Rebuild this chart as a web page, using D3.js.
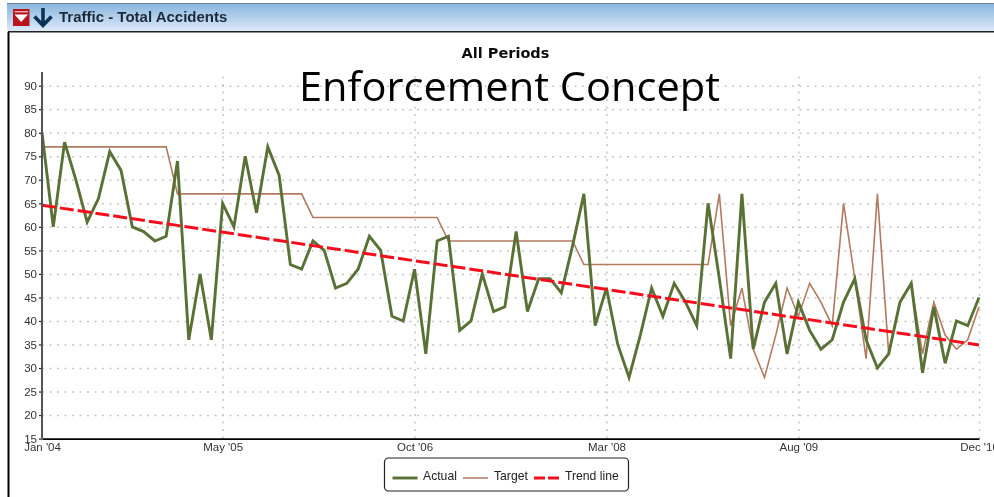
<!DOCTYPE html>
<html>
<head>
<meta charset="utf-8">
<script src="https://cdnjs.cloudflare.com/ajax/libs/d3/7.8.5/d3.min.js"></script>
<style>
html,body{margin:0;padding:0;background:#fff;overflow:hidden}
svg{display:block}
text{font-family:"Liberation Sans",Arial,sans-serif}
</style>
</head>
<body>
<svg id="c" width="994" height="497"></svg>
<script>
const panelTitle = "Traffic - Total Accidents";
const chartTitle = "All Periods";
const overlayTitle = "Enforcement Concept";
const actual = [80,60,78,70,61,66,76,72,60,59,57,58,74,36,50,36,65,60,75,63,77,71,52,51,57,55,47,48,51,58,55,41,40,51,33,57,58,38,40,50,42,43,59,42,49,49,46,56,67,39,47,35,28,37,47,41,48,44,39,65,49,32,67,34,44,48,33,44,38,34,36,44,49,36,30,33,44,48,29,43,31,40,39,45];
const target = [77,77,77,77,77,77,77,77,77,77,77,77,67,67,67,67,67,67,67,67,67,67,67,67,62,62,62,62,62,62,62,62,62,62,62,62,57,57,57,57,57,57,57,57,57,57,57,57,52,52,52,52,52,52,52,52,52,52,52,52,67,39,47,34,28,37,47,41,48,44,39,65,49,32,67,33,44,48,33,44,37,34,36,43];
const trendIndex = [0,83];
const trendValues = [64.6,34.9];
const yTicks = [15,20,25,30,35,40,45,50,55,60,65,70,75,80,85,90];
const xTickIndex = [0,16,33,50,67,83];
const xTickLabels = ["Jan '04","May '05","Oct '06","Mar '08","Aug '09","Dec '10"];
const legendLabels = ["Actual","Target","Trend line"];

const svg = d3.select("#c");
const defs = svg.append("defs");
const grad = defs.append("linearGradient").attr("id","bar").attr("x1",0).attr("x2",0).attr("y1",0).attr("y2",1);
grad.append("stop").attr("offset",0).attr("stop-color","#86b4dd");
grad.append("stop").attr("offset",1).attr("stop-color","#dfebfa");
defs.append("filter").attr("id","soft").attr("filterUnits","userSpaceOnUse").attr("x",0).attr("y",0).attr("width",994).attr("height",497)
  .append("feGaussianBlur").attr("stdDeviation",0.4);

// Window frame
const frame = svg.append("g").attr("filter","url(#soft)");
frame.append("rect").attr("x",7).attr("y",3).attr("width",987).attr("height",28.5).attr("fill","url(#bar)");
frame.append("line").attr("x1",7).attr("x2",994).attr("y1",3.5).attr("y2",3.5).attr("stroke","#6f8294");
frame.append("line").attr("x1",8).attr("x2",994).attr("y1",31.7).attr("y2",31.7).attr("stroke","#222").attr("stroke-width",1.4);
frame.append("line").attr("x1",8.5).attr("x2",8.5).attr("y1",32).attr("y2",497).attr("stroke","#000").attr("stroke-width",2);

// Icons
const icon = frame.append("g");
icon.append("rect").attr("x",13).attr("y",9).attr("width",16.5).attr("height",17).attr("fill","#b8141c");
icon.append("path").attr("d","M14.5 14.5 H28 L21.2 22 Z").attr("fill","#fff");
icon.append("rect").attr("x",14.5).attr("y",11).attr("width",13.5).attr("height",1.4).attr("fill","#e8b0b0");
icon.append("path").attr("d","M43 8 V26 M34.5 16.5 L43 25.5 L51.5 16.5").attr("fill","none").attr("stroke","#0f3358").attr("stroke-width",3.6);
frame.append("text").attr("x",59).attr("y",22).attr("font-size",15).attr("font-weight","bold").attr("fill","#1c2a38").text(panelTitle);

// Scales
const x = d3.scaleLinear().domain([0,83]).range([42,979]);
const y = d3.scaleLinear().domain([15,90]).range([438.6,85.7]);
const plotTop = 72;

const chart = svg.append("g").attr("filter","url(#soft)");

// Gridlines
const hGrid = chart.append("g").attr("transform","translate(42,0)")
  .call(d3.axisLeft(y).tickValues(yTicks.filter(d=>d>15)).tickSize(-937).tickFormat(""));
hGrid.select(".domain").remove();
hGrid.selectAll("line").attr("stroke","#c6c6c6").attr("stroke-width",1.5).attr("stroke-dasharray","2 5.5");
const vGrid = chart.append("g").attr("transform","translate(0,438.6)")
  .call(d3.axisBottom(x).tickValues(xTickIndex.slice(1)).tickSize(-(438.6-plotTop)).tickFormat(""));
vGrid.select(".domain").remove();
vGrid.selectAll("line").attr("stroke","#c6c6c6").attr("stroke-width",1.5).attr("stroke-dasharray","2 5.5");

// Series
const line = d3.line().x(d=>x(d[0])).y(d=>y(d[1]));
const targetPts = target.map((v,i)=>[i,v]);
const actualPts = actual.map((v,i)=>[i,v]);
const trendPts = trendIndex.map((v,i)=>[v,trendValues[i]]);
chart.append("path").attr("d",line(targetPts)).attr("fill","none").attr("stroke","#b27a60").attr("stroke-width",1.6);
chart.append("path").attr("d",line(actualPts)).attr("fill","none").attr("stroke","#5a7136").attr("stroke-width",2.9).attr("stroke-linejoin","miter");
chart.append("path").attr("d",line(trendPts)).attr("fill","none").attr("stroke","#f4111b").attr("stroke-width",3).attr("stroke-dasharray","14 4");

// Axes
const yAxis = chart.append("g").attr("transform","translate(42,0)")
  .call(d3.axisLeft(y).tickValues(yTicks).tickSize(3).tickPadding(2));
yAxis.select(".domain").remove();
yAxis.selectAll("line").attr("stroke","#222").attr("stroke-width",1.2);
yAxis.selectAll("text").attr("font-size",11.5).attr("font-family","'Liberation Sans',Arial,sans-serif").attr("fill","#333");
chart.append("line").attr("x1",42).attr("x2",42).attr("y1",plotTop).attr("y2",438.6).attr("stroke","#555").attr("stroke-width",2);

const xAxis = chart.append("g").attr("transform","translate(0,438.6)")
  .call(d3.axisBottom(x).tickValues(xTickIndex).tickSize(0).tickPadding(4).tickFormat((d,i)=>xTickLabels[i]));
xAxis.select(".domain").attr("stroke","#000").attr("stroke-width",1.7);
xAxis.selectAll("text").attr("font-size",11.5).attr("font-family","'Liberation Sans',Arial,sans-serif").attr("fill","#333");

// Titles
chart.append("text").attr("x",505.5).attr("y",58).attr("text-anchor","middle").attr("font-size",14.5)
  .attr("font-weight","bold").style("font-family","'DejaVu Sans',sans-serif").attr("fill","#111").text(chartTitle);
svg.append("text").attr("x",299).attr("y",101).attr("font-size",40).style("font-family","'Open Sans',sans-serif")
  .attr("textLength",421).attr("lengthAdjust","spacingAndGlyphs").attr("fill","#000").text(overlayTitle);

// Legend
const lg = chart.append("g");
lg.append("rect").attr("x",384.5).attr("y",458).attr("width",244).attr("height",33).attr("rx",4)
  .attr("fill","#fff").attr("stroke","#222").attr("stroke-width",1.2);
const swX = [392.5,463,534], labX = [423,494,565];
const swStyle = [["#5a7136",2.9,null],["#b27a60",1.5,null],["#f4111b",2.8,"11 3"]];
legendLabels.forEach((t,i)=>{
  lg.append("line").attr("x1",swX[i]).attr("x2",swX[i]+25).attr("y1",478).attr("y2",478)
    .attr("stroke",swStyle[i][0]).attr("stroke-width",swStyle[i][1]).attr("stroke-dasharray",swStyle[i][2]);
  lg.append("text").attr("x",labX[i]).attr("y",479.5).attr("font-size",12.2).attr("fill","#222").text(t);
});
</script>
</body>
</html>
